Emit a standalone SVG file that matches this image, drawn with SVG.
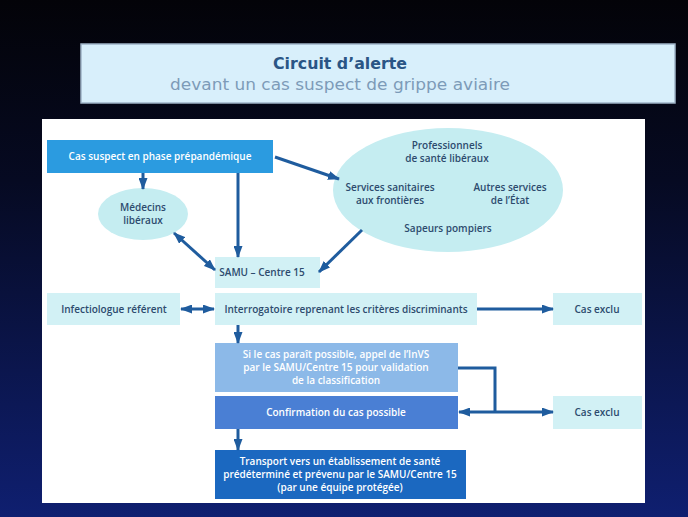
<svg xmlns="http://www.w3.org/2000/svg" width="688" height="517" viewBox="0 0 688 517">
<defs>
<linearGradient id="bg" x1="0" y1="0" x2="0" y2="1">
<stop offset="0" stop-color="#030308"/>
<stop offset="0.35" stop-color="#060a22"/>
<stop offset="1" stop-color="#0f1f70"/>
</linearGradient>
<marker id="ah" viewBox="0 0 12 9" refX="11" refY="4.5" markerWidth="12" markerHeight="9" markerUnits="userSpaceOnUse" orient="auto-start-reverse">
<path d="M0,0 L12,4.5 L0,9 Z" fill="#1f5c9e"/>
</marker>
<style>
.t{font-family:"Open Sans","Noto Sans","Liberation Sans",sans-serif;font-size:10px;font-weight:600;text-anchor:middle}
.dk{fill:#2d4b6e}
.wh{fill:#ffffff}
.light{fill:#d2f1f5}
.ell{fill:#c5edf1}
.c{fill:none;stroke:#1f5c9e;stroke-width:3}
</style>
</defs>
<rect x="0" y="0" width="688" height="517" fill="url(#bg)"/>
<g id="title">
<rect x="81" y="44" width="594" height="59" fill="#d8effb" stroke="#9fb4c8" stroke-width="1.5"/>
<text x="340" y="69" font-family="DejaVu Sans, Verdana, sans-serif" font-size="15" font-weight="bold" fill="#2a5585" text-anchor="middle" textLength="134" lengthAdjust="spacingAndGlyphs">Circuit d’alerte</text>
<text x="340" y="90" font-family="DejaVu Sans, Verdana, sans-serif" font-size="15" fill="#7d9bb8" text-anchor="middle" textLength="340" lengthAdjust="spacingAndGlyphs">devant un cas suspect de grippe aviaire</text>
</g>
<rect x="42" y="119" width="603" height="384" fill="#ffffff"/>
<g id="cas-suspect">
<rect x="47" y="140" width="226" height="33" fill="#2b9be0"/>
<text class="t wh" x="160" y="160">Cas suspect en phase prépandémique</text>
</g>
<g id="medecins">
<ellipse cx="143" cy="214" rx="45" ry="26" class="ell"/>
<text class="t dk" x="143" y="211">Médecins</text>
<text class="t dk" x="143" y="224">libéraux</text>
</g>
<g id="professionnels">
<ellipse cx="448" cy="190" rx="115" ry="62" class="ell"/>
<text class="t dk" x="447" y="149">Professionnels</text>
<text class="t dk" x="447" y="162">de santé libéraux</text>
<text class="t dk" x="390" y="191">Services sanitaires</text>
<text class="t dk" x="390" y="204">aux frontières</text>
<text class="t dk" x="510" y="191">Autres services</text>
<text class="t dk" x="510" y="204">de l’État</text>
<text class="t dk" x="448" y="232">Sapeurs pompiers</text>
</g>
<g id="samu">
<rect x="215" y="257" width="105" height="31" class="light"/>
<text class="t dk" x="262" y="276">SAMU – Centre 15</text>
</g>
<g id="infectiologue">
<rect x="47" y="293" width="133" height="32" class="light"/>
<text class="t dk" x="114" y="313">Infectiologue référent</text>
</g>
<g id="interrogatoire">
<rect x="215" y="293" width="262" height="32" class="light"/>
<text class="t dk" x="346" y="313">Interrogatoire reprenant les critères discriminants</text>
</g>
<g id="cas-exclu-1">
<rect x="553" y="293" width="89" height="32" class="light"/>
<text class="t dk" x="597" y="313">Cas exclu</text>
</g>
<g id="si-le-cas">
<rect x="215" y="343" width="243" height="49" fill="#8cb9e8"/>
<text class="t wh" x="336" y="358">Si le cas paraît possible, appel de l’InVS</text>
<text class="t wh" x="336" y="371">par le SAMU/Centre 15 pour validation</text>
<text class="t wh" x="336" y="384">de la classification</text>
</g>
<g id="confirmation">
<rect x="215" y="396" width="243" height="33" fill="#4a7fd4"/>
<text class="t wh" x="336" y="416">Confirmation du cas possible</text>
</g>
<g id="cas-exclu-2">
<rect x="553" y="396" width="89" height="33" class="light"/>
<text class="t dk" x="597" y="416">Cas exclu</text>
</g>
<g id="transport">
<rect x="215" y="450" width="251" height="49" fill="#1b68c0"/>
<text class="t wh" x="340" y="465">Transport vers un établissement de santé</text>
<text class="t wh" x="340" y="478">prédéterminé et prévenu par le SAMU/Centre 15</text>
<text class="t wh" x="340" y="491">(par une équipe protégée)</text>
</g>
<g id="connectors">
<line class="c" x1="143" y1="173" x2="143" y2="189" marker-end="url(#ah)"/>
<line class="c" x1="238" y1="173" x2="238" y2="257" marker-end="url(#ah)"/>
<line class="c" x1="275" y1="157" x2="339" y2="179" marker-end="url(#ah)"/>
<line class="c" x1="362" y1="230" x2="319" y2="272" marker-end="url(#ah)"/>
<line class="c" x1="174" y1="233" x2="215" y2="270" marker-start="url(#ah)" marker-end="url(#ah)"/>
<line class="c" x1="181" y1="309" x2="214" y2="309" marker-start="url(#ah)" marker-end="url(#ah)"/>
<line class="c" x1="477" y1="309" x2="553" y2="309" marker-end="url(#ah)"/>
<line class="c" x1="238" y1="325" x2="238" y2="343" marker-end="url(#ah)"/>
<polyline class="c" points="458,368 495,368 495,412"/>
<line class="c" x1="495" y1="412" x2="459" y2="412" marker-end="url(#ah)"/>
<line class="c" x1="495" y1="412" x2="553" y2="412" marker-end="url(#ah)"/>
<line class="c" x1="238" y1="429" x2="238" y2="450" marker-end="url(#ah)"/>
</g>
</svg>
